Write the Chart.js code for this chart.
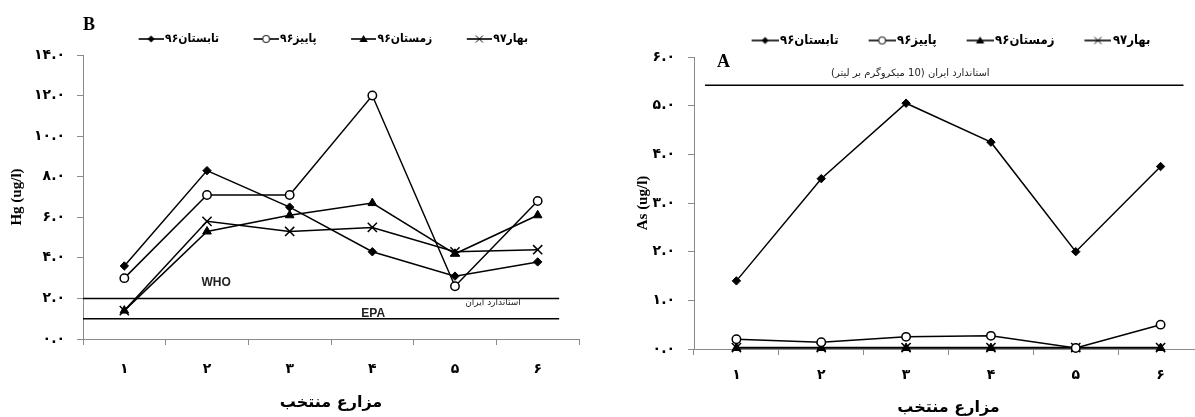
<!DOCTYPE html>
<html>
<head>
<meta charset="utf-8">
<script src="https://cdn.jsdelivr.net/npm/chart.js@4.4.1/dist/chart.umd.min.js"></script>
<style>
  html, body { margin: 0; padding: 0; overflow: hidden; background: #fff; width: 1195px; height: 417px; }
  #wrapB { position: absolute; left: 0; top: 0; width: 600px; height: 417px; }
  #wrapA { position: absolute; left: 600px; top: 0; width: 620px; height: 417px; }
</style>
</head>
<body>
<div id="wrapB"><canvas id="chartB" width="600" height="417"></canvas></div>
<div id="wrapA"><canvas id="chartA" width="620" height="417"></canvas></div>
<script>
// ---------- data ----------
const categories = ['۱', '۲', '۳', '۴', '۵', '۶'];
const seriesNames = ['تابستان۹۶', 'پاییز۹۶', 'زمستان۹۶', 'بهار۹۷'];

// Panel B: Hg (ug/l)
const hgSummer96 = [3.6, 8.3, 6.5, 4.3, 3.1, 3.8];
const hgAutumn96 = [3.0, 7.1, 7.1, 12.0, 2.6, 6.8];
const hgWinter96 = [1.4, 5.3, 6.1, 6.7, 4.2, 6.1];
const hgSpring97 = [1.4, 5.8, 5.3, 5.5, 4.3, 4.4];
const hgTickLabels = ['۰.۰', '۲.۰', '۴.۰', '۶.۰', '۸.۰', '۱۰.۰', '۱۲.۰', '۱۴.۰'];
const hgWHO = 2.0;
const hgEPA = 1.0;

// Panel A: As (ug/l)
const asSummer96 = [1.4, 3.5, 5.05, 4.25, 2.0, 3.75];
const asAutumn96 = [0.2, 0.14, 0.25, 0.27, 0.02, 0.5];
const asWinter96 = [0.02, 0.02, 0.02, 0.02, 0.02, 0.02];
const asSpring97 = [0.03, 0.03, 0.03, 0.03, 0.03, 0.03];
const asTickLabels = ['۰.۰', '۱.۰', '۲.۰', '۳.۰', '۴.۰', '۵.۰', '۶.۰'];
const asIranStd = 5.42;

// ---------- styling helpers ----------
const PERSIAN = '"DejaVu Sans", sans-serif';
const PERSIAN_NARROW = '"DejaVu Sans Condensed", "DejaVu Sans", sans-serif';
const SERIF = '"Liberation Serif", "DejaVu Serif", serif';
const AXIS_GRAY = '#8a8a8a';

const markerDefs = [
  { style: 'rectRot', radius: 4.2, fill: '#000', bw: 1 },
  { style: 'circle', radius: 4.2, fill: '#fff', bw: 1.5 },
  { style: 'triangle', radius: 5, fill: '#000', bw: 1 },
  { style: 'crossRot', radius: 6.5, fill: '#000', bw: 1.5 }
];

// legend symbol: line with marker, drawn in the right part of the image so it sits next to the text
function legendSymbol(kind, symW, pad, h) {
  const w = symW + pad;
  const c = document.createElement('canvas');
  c.width = w; c.height = h;
  const g = c.getContext('2d');
  const x0 = pad, x1 = w;
  g.strokeStyle = '#000'; g.lineWidth = 1.6;
  g.beginPath(); g.moveTo(x0, h / 2); g.lineTo(x1, h / 2); g.stroke();
  const cx = (x0 + x1) / 2, cy = h / 2;
  g.fillStyle = '#000';
  if (kind === 0) {
    g.beginPath(); g.moveTo(cx, cy - 3.5); g.lineTo(cx + 3.5, cy); g.lineTo(cx, cy + 3.5); g.lineTo(cx - 3.5, cy); g.closePath(); g.fill();
  } else if (kind === 1) {
    g.beginPath(); g.arc(cx, cy, 3.6, 0, Math.PI * 2); g.fillStyle = '#fff'; g.fill(); g.lineWidth = 1; g.stroke();
  } else if (kind === 2) {
    g.beginPath(); g.moveTo(cx, cy - 4); g.lineTo(cx + 4.2, cy + 3); g.lineTo(cx - 4.2, cy + 3); g.closePath(); g.fill();
  } else {
    g.lineWidth = 1;
    g.beginPath(); g.moveTo(cx - 3.5, cy - 3.5); g.lineTo(cx + 3.5, cy + 3.5); g.moveTo(cx + 3.5, cy - 3.5); g.lineTo(cx - 3.5, cy + 3.5); g.stroke();
  }
  return c;
}

function seriesDataset(i, values) {
  const m = markerDefs[i];
  return {
    label: seriesNames[i],
    data: values,
    xAxisID: 'x',
    borderColor: '#000',
    borderWidth: 1.5,
    tension: 0,
    fill: false,
    pointStyle: m.style,
    pointRadius: m.radius,
    pointBackgroundColor: m.fill,
    pointBorderColor: '#000',
    pointBorderWidth: m.bw,
    clip: false
  };
}

function refDataset(yValue, x0, x1) {
  return {
    label: 'ref',
    isRef: true,
    data: [{ x: x0, y: yValue }, { x: x1, y: yValue }],
    xAxisID: 'x2',
    borderColor: '#000',
    borderWidth: 1.5,
    pointRadius: 0,
    fill: false,
    clip: false
  };
}

const annotPlugin = {
  id: 'annot',
  afterDraw(chart, args, opts) {
    const ctx = chart.ctx;
    const xs = chart.scales.x2, ys = chart.scales.y;
    (opts.items || []).forEach(it => {
      ctx.save();
      ctx.font = it.font;
      ctx.fillStyle = it.color || '#000';
      ctx.direction = it.dir || 'ltr';
      ctx.textAlign = it.align || 'center';
      ctx.textBaseline = 'middle';
      ctx.fillText(it.text, xs.getPixelForValue(it.x), ys.getPixelForValue(it.y));
      ctx.restore();
    });
  }
};

function buildConfig(p) {
  const symW = p.symW;
  const imgPad = p.legendFont - 3;
  return {
    type: 'line',
    data: {
      labels: categories,
      datasets: p.series.map((v, i) => seriesDataset(i, v)).concat(p.refs)
    },
    options: {
      responsive: false,
      animation: false,
      devicePixelRatio: 1,
      layout: { padding: p.padding },
      plugins: {
        tooltip: { enabled: false },
        legend: {
          position: 'top',
          fullSize: false,
          labels: {
            usePointStyle: true,
            pointStyleWidth: symW,
            padding: p.legendPad,
            color: '#000',
            font: { family: PERSIAN_NARROW, size: p.legendFont, weight: 'bold' },
            generateLabels(chart) {
              return chart.data.datasets
                .map((ds, i) => ({ ds, i }))
                .filter(o => !o.ds.isRef)
                .map(o => ({
                  text: o.ds.label,
                  datasetIndex: o.i,
                  pointStyle: legendSymbol(o.i, symW, imgPad, 12),
                  fillStyle: '#000',
                  strokeStyle: '#000',
                  lineWidth: 0,
                  fontColor: '#000',
                  hidden: false
                }));
            }
          }
        },
        annot: { items: p.annotations }
      },
      scales: {
        x: {
          type: 'category',
          offset: true,
          grid: { offset: true, drawOnChartArea: false, drawTicks: true, tickLength: 6, color: AXIS_GRAY, lineWidth: 1 },
          border: { color: AXIS_GRAY, width: 1 },
          ticks: { color: '#000', font: { family: PERSIAN, size: 14, weight: 'bold' }, padding: p.xTickPad, maxRotation: 0 },
          title: { display: true, text: 'مزارع منتخب', color: '#000', font: { family: PERSIAN, size: 16, weight: 'bold' }, padding: { top: 0, bottom: p.xTitlePad } },
          afterFit(s) { s.height = p.xHeight; }
        },
        x2: { type: 'linear', min: 0.5, max: 6.5, display: false },
        y: {
          min: 0, max: p.yMax,
          ticks: {
            stepSize: p.yStep,
            color: '#000',
            padding: p.yTickPad,
            font: { family: PERSIAN, size: 14, weight: 'bold' },
            callback: (v, idx) => p.tickLabels[idx]
          },
          grid: { drawOnChartArea: false, drawTicks: true, tickLength: 6, color: AXIS_GRAY, lineWidth: 1 },
          border: { color: AXIS_GRAY, width: 1 },
          title: { display: true, text: p.yTitle, color: '#000', font: { family: SERIF, size: 15, weight: 'bold' }, padding: { top: p.yTitlePad, bottom: 0 } },
          afterFit(s) { s.width = p.yWidth; }
        }
      }
    },
    plugins: [annotPlugin]
  };
}

// ---------- Panel B ----------
new Chart(document.getElementById('chartB'), buildConfig({
  series: [hgSummer96, hgAutumn96, hgWinter96, hgSpring97],
  refs: [refDataset(hgWHO, 0.5, 6.26), refDataset(hgEPA, 0.5, 6.26)],
  padding: { left: 0, right: 21, top: 3, bottom: 0 },
  symW: 25, legendPad: 30, legendFont: 12,
  xTickPad: 16, xTitlePad: 5, xHeight: 78,
  yMax: 14, yStep: 2, tickLabels: hgTickLabels, yTickPad: 12,
  yTitle: 'Hg (ug/l)', yTitlePad: 8, yWidth: 83,
  annotations: [
    { text: 'B', x: 0.5, y: 15.45, font: 'bold 18px ' + SERIF, align: 'left' },
    { text: 'WHO', x: 2.11, y: 2.8, font: 'bold 12px "Liberation Sans", Arial, sans-serif', color: '#222' },
    { text: 'EPA', x: 4.01, y: 1.25, font: 'bold 12px "Liberation Sans", Arial, sans-serif', color: '#222' },
    { text: 'استاندارد ایران', x: 5.46, y: 1.77, font: '9px ' + PERSIAN, color: '#222', dir: 'rtl' }
  ]
}));

// ---------- Panel A ----------
new Chart(document.getElementById('chartA'), buildConfig({
  series: [asSummer96, asAutumn96, asWinter96, asSpring97],
  refs: [refDataset(asIranStd, 0.63, 6.27)],
  padding: { left: 0, right: 17, top: 9, bottom: 0 },
  symW: 27, legendPad: 25, legendFont: 13,
  xTickPad: 12, xTitlePad: 0, xHeight: 68,
  yMax: 6, yStep: 1, tickLabels: asTickLabels, yTickPad: 13,
  yTitle: 'As (ug/l)', yTitlePad: 34, yWidth: 94,
  annotations: [
    { text: 'A', x: 0.77, y: 5.88, font: 'bold 18px ' + SERIF, align: 'left' },
    { text: 'استاندارد ایران (10 میکروگرم بر لیتر)', x: 3.05, y: 5.67, font: '10px ' + PERSIAN, color: '#222', dir: 'rtl' }
  ]
}));
</script>
</body>
</html>
